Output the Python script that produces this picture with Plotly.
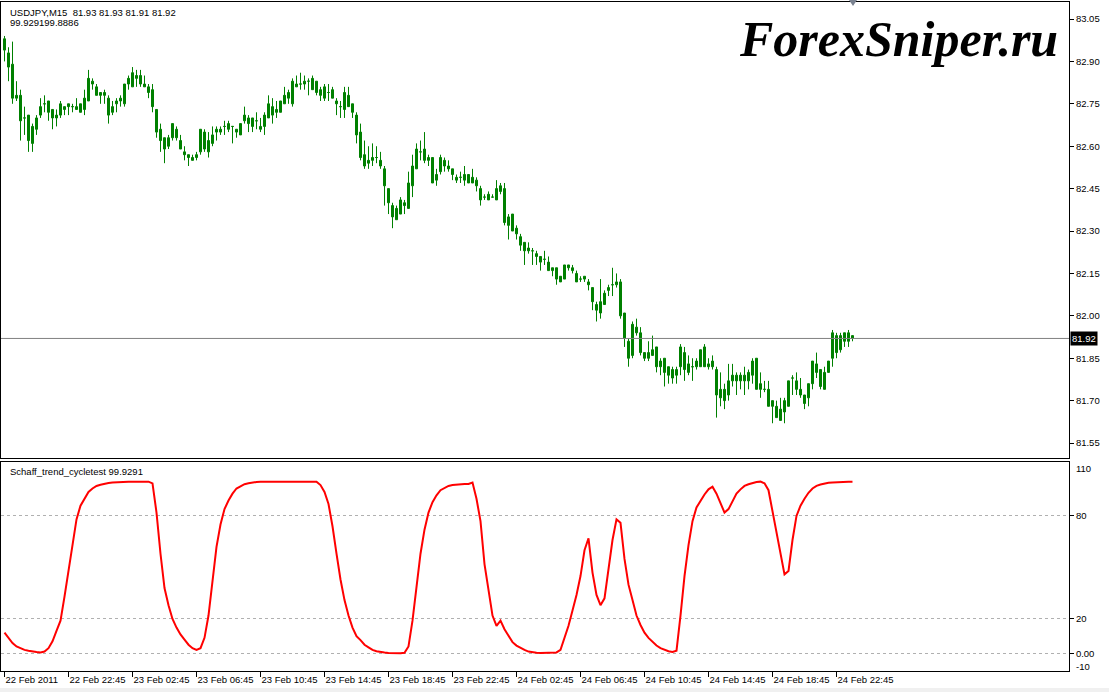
import plotly.graph_objects as go

# ---------------- data ----------------
opens = [82.98, 82.93, 82.89, 82.78, 82.78, 82.70, 82.71, 82.61, 82.66, 82.71,
         82.75, 82.76, 82.73, 82.70, 82.71, 82.73, 82.75, 82.74, 82.73, 82.72,
         82.73, 82.76, 82.83, 82.81, 82.79, 82.79, 82.77, 82.72, 82.75, 82.76,
         82.75, 82.82, 82.81, 82.85, 82.85, 82.82, 82.81, 82.80, 82.73, 82.66,
         82.63, 82.60, 82.63, 82.66, 82.62, 82.58, 82.57, 82.55, 82.56, 82.58,
         82.65, 82.58, 82.61, 82.65, 82.65, 82.67, 82.66, 82.67, 82.66, 82.64,
         82.69, 82.70, 82.67, 82.69, 82.67, 82.67, 82.70, 82.74, 82.72, 82.72,
         82.75, 82.77, 82.75, 82.81, 82.82, 82.82, 82.83, 82.84, 82.83, 82.80,
         82.77, 82.79, 82.80, 82.76, 82.74, 82.73, 82.78, 82.75, 82.71, 82.65,
         82.57, 82.54, 82.55, 82.56, 82.55, 82.52, 82.45, 82.39, 82.34, 82.36,
         82.40, 82.38, 82.46, 82.52, 82.58, 82.59, 82.55, 82.56, 82.48, 82.51,
         82.55, 82.53, 82.52, 82.49, 82.49, 82.48, 82.50, 82.47, 82.48, 82.45,
         82.42, 82.41, 82.42, 82.41, 82.44, 82.45, 82.32, 82.36, 82.31, 82.28,
         82.26, 82.24, 82.23, 82.22, 82.21, 82.20, 82.19, 82.16, 82.17, 82.12,
         82.13, 82.18, 82.17, 82.15, 82.13, 82.14, 82.12, 82.10, 82.04, 82.01,
         82.04, 82.09, 82.11, 82.11, 82.12, 82.01, 81.91, 81.86, 81.96, 81.94,
         81.87, 81.85, 81.86, 81.89, 81.84, 81.85, 81.82, 81.78, 81.79, 81.82,
         81.87, 81.83, 81.82, 81.82, 81.82, 81.89, 81.82, 81.84, 81.81, 81.74,
         81.70, 81.72, 81.77, 81.79, 81.77, 81.79, 81.77, 81.79, 81.85, 81.76,
         81.74, 81.74, 81.70, 81.68, 81.63, 81.66, 81.68, 81.78, 81.77, 81.74,
         81.72, 81.71, 81.76, 81.83, 81.81, 81.74, 81.80, 81.85, 81.93, 81.88,
         81.91, 81.94, 81.93]

highs = [82.99, 82.95, 82.97, 82.83, 82.80, 82.74, 82.71, 82.68, 82.71, 82.77,
         82.78, 82.76, 82.73, 82.73, 82.76, 82.74, 82.75, 82.75, 82.77, 82.75,
         82.80, 82.87, 82.84, 82.82, 82.79, 82.80, 82.78, 82.76, 82.77, 82.78,
         82.82, 82.85, 82.88, 82.87, 82.87, 82.85, 82.82, 82.82, 82.73, 82.68,
         82.63, 82.64, 82.68, 82.67, 82.64, 82.60, 82.57, 82.57, 82.58, 82.66,
         82.66, 82.65, 82.67, 82.67, 82.67, 82.69, 82.69, 82.67, 82.66, 82.68,
         82.74, 82.71, 82.70, 82.72, 82.70, 82.72, 82.78, 82.77, 82.76, 82.76,
         82.81, 82.80, 82.84, 82.85, 82.86, 82.85, 82.84, 82.85, 82.83, 82.81,
         82.82, 82.82, 82.81, 82.77, 82.76, 82.81, 82.81, 82.75, 82.72, 82.68,
         82.62, 82.60, 82.61, 82.60, 82.58, 82.53, 82.45, 82.40, 82.39, 82.42,
         82.41, 82.51, 82.57, 82.61, 82.62, 82.65, 82.57, 82.56, 82.52, 82.57,
         82.56, 82.55, 82.52, 82.50, 82.51, 82.53, 82.50, 82.52, 82.49, 82.46,
         82.43, 82.44, 82.43, 82.48, 82.47, 82.47, 82.36, 82.36, 82.32, 82.29,
         82.26, 82.26, 82.24, 82.23, 82.21, 82.23, 82.21, 82.17, 82.17, 82.14,
         82.18, 82.18, 82.18, 82.16, 82.14, 82.14, 82.13, 82.10, 82.05, 82.13,
         82.09, 82.11, 82.17, 82.15, 82.13, 82.01, 81.92, 81.98, 81.99, 81.96,
         81.87, 81.91, 81.93, 81.89, 81.85, 81.85, 81.82, 81.82, 81.82, 81.90,
         81.89, 81.86, 81.85, 81.85, 81.88, 81.90, 81.85, 81.86, 81.82, 81.80,
         81.76, 81.83, 81.83, 81.80, 81.80, 81.82, 81.81, 81.85, 81.85, 81.80,
         81.77, 81.77, 81.70, 81.70, 81.71, 81.71, 81.77, 81.79, 81.80, 81.78,
         81.72, 81.76, 81.84, 81.87, 81.81, 81.82, 81.84, 81.95, 81.94, 81.94,
         81.94, 81.95, 81.93]

lows = [82.90, 82.83, 82.75, 82.76, 82.62, 82.64, 82.58, 82.58, 82.64, 82.70,
        82.72, 82.69, 82.66, 82.67, 82.70, 82.71, 82.71, 82.72, 82.73, 82.72,
        82.71, 82.76, 82.80, 82.78, 82.75, 82.75, 82.68, 82.71, 82.72, 82.74,
        82.74, 82.80, 82.81, 82.81, 82.81, 82.81, 82.77, 82.72, 82.63, 82.58,
        82.54, 82.59, 82.62, 82.62, 82.59, 82.55, 82.53, 82.55, 82.55, 82.57,
        82.58, 82.56, 82.60, 82.62, 82.64, 82.64, 82.65, 82.61, 82.63, 82.64,
        82.68, 82.65, 82.65, 82.66, 82.65, 82.64, 82.70, 82.68, 82.70, 82.72,
        82.75, 82.75, 82.74, 82.81, 82.80, 82.80, 82.78, 82.80, 82.78, 82.76,
        82.76, 82.76, 82.77, 82.71, 82.70, 82.70, 82.74, 82.70, 82.61, 82.55,
        82.52, 82.52, 82.53, 82.54, 82.52, 82.39, 82.36, 82.31, 82.34, 82.36,
        82.36, 82.38, 82.42, 82.52, 82.55, 82.54, 82.53, 82.47, 82.46, 82.50,
        82.51, 82.51, 82.48, 82.47, 82.47, 82.46, 82.47, 82.47, 82.44, 82.39,
        82.41, 82.41, 82.42, 82.41, 82.43, 82.32, 82.27, 82.30, 82.27, 82.23,
        82.18, 82.22, 82.18, 82.18, 82.16, 82.18, 82.16, 82.14, 82.11, 82.12,
        82.13, 82.16, 82.15, 82.12, 82.12, 82.12, 82.09, 82.02, 81.98, 81.99,
        82.04, 82.07, 82.07, 82.10, 81.99, 81.89, 81.82, 81.85, 81.93, 81.86,
        81.84, 81.84, 81.86, 81.80, 81.79, 81.75, 81.76, 81.76, 81.76, 81.79,
        81.77, 81.79, 81.77, 81.81, 81.82, 81.82, 81.81, 81.81, 81.64, 81.68,
        81.67, 81.70, 81.75, 81.72, 81.74, 81.72, 81.74, 81.76, 81.74, 81.71,
        81.73, 81.68, 81.62, 81.64, 81.63, 81.62, 81.68, 81.72, 81.72, 81.71,
        81.67, 81.68, 81.74, 81.78, 81.74, 81.74, 81.80, 81.82, 81.85, 81.87,
        81.89, 81.89, 81.91]

closes = [82.94, 82.88, 82.77, 82.77, 82.69, 82.70, 82.62, 82.67, 82.70, 82.74,
          82.75, 82.72, 82.70, 82.71, 82.75, 82.74, 82.74, 82.74, 82.74, 82.75,
          82.77, 82.84, 82.82, 82.78, 82.78, 82.78, 82.71, 82.74, 82.76, 82.77,
          82.82, 82.84, 82.86, 82.84, 82.82, 82.81, 82.79, 82.74, 82.65, 82.62,
          82.59, 82.63, 82.68, 82.63, 82.59, 82.57, 82.56, 82.56, 82.57, 82.66,
          82.59, 82.62, 82.64, 82.66, 82.66, 82.67, 82.68, 82.67, 82.65, 82.68,
          82.71, 82.68, 82.70, 82.69, 82.66, 82.71, 82.75, 82.71, 82.73, 82.76,
          82.78, 82.79, 82.83, 82.82, 82.82, 82.83, 82.83, 82.80, 82.79, 82.78,
          82.81, 82.79, 82.77, 82.75, 82.74, 82.79, 82.74, 82.72, 82.64, 82.56,
          82.53, 82.55, 82.56, 82.56, 82.53, 82.46, 82.40, 82.35, 82.38, 82.41,
          82.39, 82.47, 82.53, 82.59, 82.58, 82.55, 82.56, 82.47, 82.50, 82.56,
          82.53, 82.52, 82.50, 82.48, 82.49, 82.50, 82.47, 82.49, 82.46, 82.41,
          82.42, 82.43, 82.42, 82.45, 82.46, 82.33, 82.35, 82.30, 82.29, 82.25,
          82.23, 82.23, 82.23, 82.21, 82.19, 82.20, 82.16, 82.17, 82.13, 82.14,
          82.18, 82.17, 82.16, 82.12, 82.13, 82.13, 82.11, 82.05, 82.02, 82.05,
          82.08, 82.10, 82.11, 82.12, 82.00, 81.92, 81.85, 81.97, 81.94, 81.87,
          81.85, 81.87, 81.88, 81.82, 81.82, 81.80, 81.79, 81.81, 81.81, 81.89,
          81.81, 81.80, 81.82, 81.84, 81.88, 81.82, 81.83, 81.82, 81.72, 81.71,
          81.74, 81.77, 81.79, 81.77, 81.79, 81.77, 81.80, 81.84, 81.74, 81.74,
          81.74, 81.68, 81.68, 81.64, 81.67, 81.70, 81.77, 81.78, 81.74, 81.72,
          81.69, 81.76, 81.84, 81.80, 81.75, 81.80, 81.84, 81.94, 81.87, 81.93,
          81.94, 81.91, 81.92]

stc = [12, 9, 6, 4, 3, 2, 1.5, 1, 0.7, 0.5,
       1, 3, 7, 13, 19, 33, 49, 65, 78, 86,
       90, 94, 96, 97.5, 98.2, 98.8, 99.2, 99.5, 99.7, 99.8,
       99.9, 99.9, 100, 100, 100, 100, 100, 99, 82, 58,
       38, 28, 20, 15, 11, 8, 5, 3, 2, 3,
       9, 22, 44, 62, 75, 84, 89, 93, 96, 97.5,
       98.5, 99, 99.5, 99.8, 100, 100, 100, 100, 100, 100,
       100, 100, 100, 100, 100, 100, 100, 100, 100, 98,
       94, 87, 74, 58, 43, 31, 22, 15, 10, 7.7,
       5, 3.5, 2, 1.2, 0.7, 0.4, 0.2, 0.1, 0.1, 0,
       0.3, 4, 19, 38, 58, 72, 82, 88, 92, 95,
       96.5, 97.5, 98, 98.3, 98.5, 98.6, 98.6, 99.5, 90, 77,
       52, 37, 22, 16, 19, 14, 10, 6.5, 4.5, 3,
       2, 1, 0.5, 0.3, 0.2, 0.2, 0.2, 0.2, 0.5, 2,
       9, 16, 25, 34, 45, 60, 67, 47, 34, 28,
       32, 48, 66, 78, 76, 55, 40, 31, 22, 16.5,
       12, 9, 6.5, 4.5, 3, 2, 1.2, 0.8, 1.5, 22,
       45, 63, 77, 85, 89, 92.5, 95.5, 97, 93, 87,
       82, 84, 89, 93, 95.5, 97.5, 98.5, 99.3, 99.8, 100,
       99, 95, 83, 72, 60, 46, 48, 66, 80, 86,
       90, 93.5, 96, 97.5, 98.3, 98.9, 99.3, 99.5, 99.7, 99.8,
       99.9, 99.92, 99.93]

tick_bars = [0, 16, 32, 48, 64, 80, 96, 112, 128, 144, 160, 176, 192, 208]
tick_labels = ["22 Feb 2011", "22 Feb 22:45", "23 Feb 02:45", "23 Feb 06:45",
               "23 Feb 10:45", "23 Feb 14:45", "23 Feb 18:45", "23 Feb 22:45",
               "24 Feb 02:45", "24 Feb 06:45", "24 Feb 10:45", "24 Feb 14:45",
               "24 Feb 18:45", "24 Feb 22:45"]
price_ticks = [83.05, 82.90, 82.75, 82.60, 82.45, 82.30, 82.15, 82.00, 81.85, 81.70, 81.55]
stc_levels = [80, 20, 0]
stc_level_labels = ["80", "20", "0.00"]
bid = 81.92

# ---------------- figure ----------------
W, H = 1109, 692
ML, MR, MT, MB = 1, 40, 2, 21
PW, PH = W - ML - MR, H - MT - MB

def px_x(x):
    return (x - ML) / PW

def px_y(y):
    return (H - MB - y) / PH

FONT = "Liberation Sans, Arial, sans-serif"
GREEN = "#008000"
FS = 9.5

bars = list(range(len(closes)))

fig = go.Figure()
fig.add_trace(go.Candlestick(
    x=bars, open=opens, high=highs, low=lows, close=closes,
    increasing=dict(line=dict(color=GREEN, width=1), fillcolor=GREEN),
    decreasing=dict(line=dict(color=GREEN, width=1), fillcolor=GREEN),
    whiskerwidth=0, xaxis="x", yaxis="y", showlegend=False, hoverinfo="skip",
))
fig.add_trace(go.Scatter(
    x=list(range(len(stc))), y=stc, mode="lines",
    line=dict(color="#ff0000", width=2), xaxis="x2", yaxis="y2",
    showlegend=False, hoverinfo="skip",
))

# half-pixel shift so that 1px wicks land on pixel centres
xr = [(ML - 4.5) / 4, (W - MR - 4.5) / 4]
axis_common = dict(showline=True, mirror=True, linecolor="black", linewidth=1,
                   zeroline=False, fixedrange=True, automargin=False)

fig.update_layout(
    width=W, height=H,
    margin=dict(l=ML, r=MR, t=MT, b=MB, autoexpand=False),
    paper_bgcolor="white", plot_bgcolor="white",
    boxgap=0.5, boxgroupgap=0,
    font=dict(family=FONT, size=FS, color="black"),
    xaxis=dict(domain=[0, 1], anchor="y", range=xr, showticklabels=False,
               showgrid=False, ticks="", rangeslider=dict(visible=False), **axis_common),
    yaxis=dict(domain=[px_y(458), 1], anchor="x", side="right",
               range=[83.05 - (458 - 19) / 282.7, 83.05 + (19 - 2) / 282.7],
               tickvals=price_ticks, ticktext=[f"{v:.2f}" for v in price_ticks],
               ticks="outside", ticklen=4, tickcolor="black", showgrid=False,
               **axis_common),
    xaxis2=dict(domain=[0, 1], anchor="y2", range=xr, tickvals=tick_bars,
                ticktext=tick_labels, ticks="outside", ticklen=5, tickcolor="black",
                tickangle=0, ticklabelposition="outside right", showgrid=False,
                **axis_common),
    yaxis2=dict(domain=[0, px_y(462)], anchor="x2", side="right",
                range=[(653.3 - 671) / 1.7167, (653.3 - 462) / 1.7167],
                tickvals=stc_levels, ticktext=stc_level_labels,
                ticks="outside", ticklen=4, tickcolor="black",
                showgrid=True, gridcolor="#b0b0b0", griddash="3px,3px", gridwidth=1,
                **axis_common),
)

# bid line and its label
fig.add_shape(type="line", xref="x domain", yref="y", x0=0, x1=1, y0=bid, y1=bid,
              line=dict(color="#808080", width=1))
fig.add_annotation(xref="paper", yref="y", x=1.0, y=bid, xanchor="left", yanchor="middle",
                   xshift=1, text=f"{bid:.2f}", showarrow=False, bgcolor="black",
                   font=dict(color="white", size=FS, family=FONT), borderpad=1)

# top/bottom labels of the indicator scale
fig.add_annotation(xref="paper", yref="paper", x=1.0, y=px_y(468), xanchor="left",
                   yanchor="middle", xshift=5, text="110", showarrow=False,
                   font=dict(size=FS, family=FONT))
fig.add_annotation(xref="paper", yref="paper", x=1.0, y=px_y(666), xanchor="left",
                   yanchor="middle", xshift=5, text="-10", showarrow=False,
                   font=dict(size=FS, family=FONT))

# header texts
fig.add_annotation(xref="paper", yref="paper", x=px_x(8), y=px_y(12), xanchor="left",
                   yanchor="middle", text="USDJPY,M15\u00a0\u00a081.93 81.93 81.91 81.92",
                   showarrow=False, font=dict(size=FS, family=FONT))
fig.add_annotation(xref="paper", yref="paper", x=px_x(8), y=px_y(22), xanchor="left",
                   yanchor="middle", text="99.929199.8886",
                   showarrow=False, font=dict(size=FS, family=FONT))
fig.add_annotation(xref="paper", yref="paper", x=px_x(8), y=px_y(471), xanchor="left",
                   yanchor="middle", text="Schaff_trend_cycletest 99.9291",
                   showarrow=False, font=dict(size=FS, family=FONT))

# watermark
fig.add_annotation(xref="paper", yref="paper", x=px_x(898), y=px_y(39),
                   xanchor="center", yanchor="middle", text="ForexSniper.ru",
                   showarrow=False,
                   font=dict(family="Liberation Serif, Times New Roman, serif", size=50,
                             color="black", weight="bold", style="italic"))

# small chart-shift marker at the top
fig.add_shape(type="path", xref="paper", yref="paper",
              path=f"M {px_x(849)},{px_y(0)} L {px_x(857)},{px_y(0)} L {px_x(853)},{px_y(6)} Z",
              fillcolor="#7a8290", line=dict(width=0))

# bottom gray strip
fig.add_shape(type="rect", xref="paper", yref="paper", x0=px_x(0), x1=px_x(W),
              y0=px_y(H), y1=px_y(688), fillcolor="#f0f0f0", line=dict(width=0),
              layer="below")

fig.write_html("out.html", config={"displayModeBar": False},
               post_script="document.body.style.margin='0';document.body.style.overflow='hidden';")
